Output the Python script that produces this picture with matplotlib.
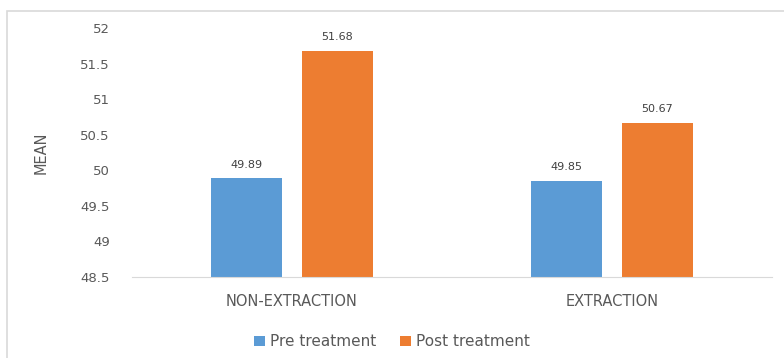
import numpy as np
import matplotlib.pyplot as plt
from matplotlib.patches import Rectangle

groups = ["NON-EXTRACTION", "EXTRACTION"]
pre = [49.89, 49.85]
post = [51.68, 50.67]
yticks = [48.5, 49, 49.5, 50, 50.5, 51, 51.5, 52]

plt.rcParams['font.family'] = ['DejaVu Sans']
txt = '#595959'

fig = plt.figure(figsize=(7.84, 3.58), dpi=100)
# outer chart frame (cropped on right and bottom)
fig.patches.append(Rectangle((7/784, -0.1), 1.2, 1 - 11/358 + 0.1, transform=fig.transFigure,
                             fill=False, edgecolor='#d9d9d9', linewidth=1.2))
ax = fig.add_axes([132/784, 1 - 277/358, 640/784, 249/358])

x = np.arange(len(groups))
w = 0.222
gap = 0.0625
b1 = ax.bar(x - (w + gap) / 2, pre, w, color='#5B9BD5', label='Pre treatment')
b2 = ax.bar(x + (w + gap) / 2, post, w, color='#ED7D31', label='Post treatment')

for bars, vals in [(b1, pre), (b2, post)]:
    for r, v in zip(bars, vals):
        ax.text(r.get_x() + r.get_width() / 2, v + 0.12, f"{v:.2f}", ha='center', va='bottom',
                fontsize=8, color='#404040')

ax.set_ylim(48.5, 52)
ax.set_xlim(-0.5, 1.5)
ax.set_yticks(yticks)
ax.set_yticklabels([f"{t:g}" for t in yticks])
ax.set_xticks(x)
ax.set_xticklabels(groups)
ax.tick_params(axis='both', length=0, colors=txt)
ax.tick_params(axis='y', pad=16, labelsize=9.5)
ax.tick_params(axis='x', pad=12, labelsize=10.5)
for s in ['top', 'right', 'left']:
    ax.spines[s].set_visible(False)
ax.spines['bottom'].set_color('#d9d9d9')
ax.set_ylabel('MEAN', color=txt, fontsize=10.5)
ax.yaxis.set_label_coords(-0.13, 0.5)

fig.legend(handles=[b1, b2], loc='center', bbox_to_anchor=(0.5, 0.045), ncol=2, frameon=False,
           fontsize=11, labelcolor=txt, handlelength=0.7, handleheight=0.7,
           columnspacing=1.6, handletextpad=0.3)

fig.savefig('out.png', dpi=100)
